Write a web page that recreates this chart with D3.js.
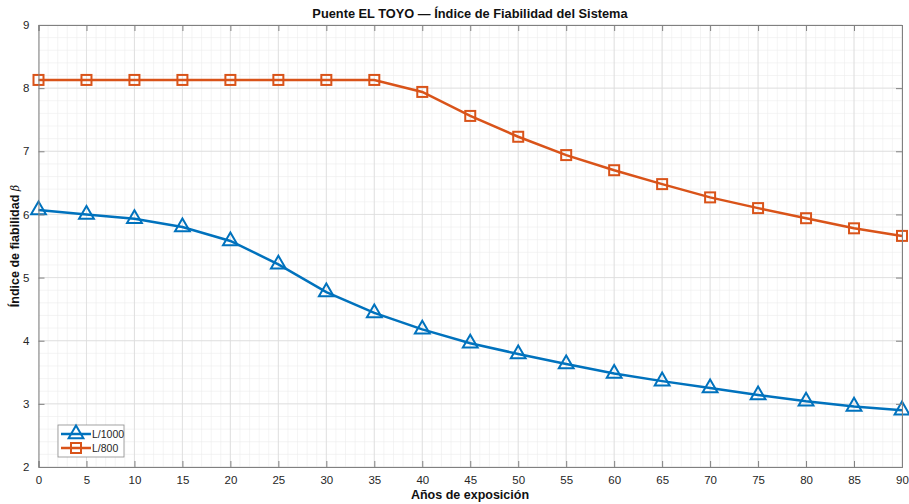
<!DOCTYPE html>
<html>
<head>
<meta charset="utf-8">
<script src="https://cdn.jsdelivr.net/npm/d3@7"></script>
<style>
  body { margin: 0; background: #fff; }
  svg { font-family: "Liberation Sans", Arial, sans-serif; }
</style>
</head>
<body>
<svg id="chart" width="909" height="504"></svg>
<script>
// years of exposure
const years = [0, 5, 10, 15, 20, 25, 30, 35, 40, 45, 50, 55, 60, 65, 70, 75, 80, 85, 90];
const betaL1000 = [6.07, 6.00, 5.93, 5.80, 5.58, 5.21, 4.77, 4.44, 4.18, 3.96, 3.79, 3.63, 3.48, 3.36, 3.25, 3.14, 3.04, 2.96, 2.90];
const betaL800 = [8.13, 8.13, 8.13, 8.13, 8.13, 8.13, 8.13, 8.13, 7.94, 7.56, 7.23, 6.94, 6.70, 6.48, 6.27, 6.10, 5.94, 5.78, 5.66];
const xTicks = d3.range(0, 91, 5);
const yTicks = [2, 3, 4, 5, 6, 7, 8, 9];

const svg = d3.select("#chart");
const margin = {left: 38.5, right: 7, top: 25, bottom: 37};
const W = 909, H = 504;

const x = d3.scaleLinear().domain([0, 90]).range([margin.left, W - margin.right]);
const y = d3.scaleLinear().domain([2, 9]).range([H - margin.bottom, margin.top]);

const plot = svg.append("g");

// minor grid
plot.selectAll(".minor-x")
  .data(d3.range(0, 91, 1))
  .join("line")
  .attr("x1", d => x(d)).attr("x2", d => x(d))
  .attr("y1", y(2)).attr("y2", y(9))
  .attr("stroke", "#ececec").attr("stroke-width", 0.6);
plot.selectAll(".minor-y")
  .data(d3.range(2, 9.001, 0.2))
  .join("line")
  .attr("y1", d => y(d)).attr("y2", d => y(d))
  .attr("x1", x(0)).attr("x2", x(90))
  .attr("stroke", "#ececec").attr("stroke-width", 0.6);

// major grid
plot.selectAll(".major-x")
  .data(xTicks)
  .join("line")
  .attr("x1", d => x(d)).attr("x2", d => x(d))
  .attr("y1", y(2)).attr("y2", y(9))
  .attr("stroke", "#dcdcdc").attr("stroke-width", 0.8);
plot.selectAll(".major-y")
  .data(yTicks)
  .join("line")
  .attr("y1", d => y(d)).attr("y2", d => y(d))
  .attr("x1", x(0)).attr("x2", x(90))
  .attr("stroke", "#dcdcdc").attr("stroke-width", 0.8);

// axes (ticks inward, box)
const axisColor = "#262626";
const fmt = d3.format("d");
const xAxis = d3.axisBottom(x).tickValues(xTicks).tickFormat(fmt).tickSize(-6).tickPadding(9);
const yAxis = d3.axisLeft(y).tickValues(yTicks).tickFormat(fmt).tickSize(-6).tickPadding(9);

svg.append("g").attr("transform", `translate(0,${y(2)})`).call(xAxis);
svg.append("g").attr("transform", `translate(${x(0)},0)`).call(yAxis);
svg.append("g").attr("transform", `translate(0,${y(9)})`)
  .call(d3.axisTop(x).tickValues(xTicks).tickSize(-6).tickFormat(""));
svg.append("g").attr("transform", `translate(${x(90)},0)`)
  .call(d3.axisRight(y).tickValues(yTicks).tickSize(-6).tickFormat(""));

svg.selectAll(".domain").attr("stroke", "#808080").attr("stroke-width", 1);
svg.selectAll(".tick line").attr("stroke", "#808080");
svg.selectAll(".tick text").attr("fill", axisColor).attr("font-size", 11.5)
  .attr("font-family", "Liberation Sans, Arial, sans-serif");

// series
const series = [
  {name: "L/1000", values: betaL1000, color: "#0072BD", marker: "triangle"},
  {name: "L/800", values: betaL800, color: "#D95319", marker: "square"}
];

const line = d3.line().x(d => x(d[0])).y(d => y(d[1]));
const triSym = d3.symbol().type(d3.symbolTriangle).size(95);

function drawMarker(sel, kind, color) {
  if (kind === "triangle") {
    sel.append("path").attr("d", triSym())
      .attr("fill", "none").attr("stroke", color).attr("stroke-width", 2);
  } else {
    sel.append("rect").attr("x", -5).attr("y", -5).attr("width", 10).attr("height", 10)
      .attr("fill", "none").attr("stroke", color).attr("stroke-width", 2);
  }
}

series.forEach(s => {
  const pts = years.map((yr, i) => [yr, s.values[i]]);
  plot.append("path").datum(pts)
    .attr("d", line)
    .attr("fill", "none").attr("stroke", s.color).attr("stroke-width", 2.5);
  const m = plot.selectAll(null).data(pts).join("g")
    .attr("transform", d => `translate(${x(d[0])},${y(d[1])})`);
  drawMarker(m, s.marker, s.color);
});

// legend
const lg = svg.append("g").attr("transform", "translate(58,425)");
lg.append("rect").attr("width", 66).attr("height", 32)
  .attr("fill", "#fff").attr("stroke", "#8c8c8c").attr("stroke-width", 0.8);
series.forEach((s, i) => {
  const row = lg.append("g").attr("transform", `translate(0,${9 + i * 14})`);
  row.append("line").attr("x1", 3).attr("x2", 33).attr("y1", 0).attr("y2", 0)
    .attr("stroke", s.color).attr("stroke-width", 2.5);
  const mk = row.append("g").attr("transform", "translate(18,0)");
  drawMarker(mk, s.marker, s.color);
  row.append("text").attr("x", 34).attr("y", 4).text(s.name)
    .attr("font-size", 10.5).attr("fill", axisColor);
});

// title and labels
svg.append("text").attr("x", 470).attr("y", 18).attr("text-anchor", "middle")
  .attr("font-weight", "bold").attr("font-size", 12.8).attr("fill", "#111")
  .text("Puente EL TOYO — Índice de Fiabilidad del Sistema");

svg.append("text").attr("x", 470).attr("y", 499).attr("text-anchor", "middle")
  .attr("font-weight", "bold").attr("font-size", 12.5).attr("fill", "#111")
  .text("Años de exposición");

const yl = svg.append("text")
  .attr("transform", `translate(19,${(y(2) + y(9)) / 2}) rotate(-90)`)
  .attr("text-anchor", "middle").attr("font-weight", "bold").attr("font-size", 12.5).attr("fill", "#111");
yl.append("tspan").text("Índice de fiabilidad ");
yl.append("tspan").text("β").attr("font-style", "italic").attr("font-weight", "normal")
  .attr("font-family", "DejaVu Serif, serif").attr("font-size", 11);
</script>
</body>
</html>
